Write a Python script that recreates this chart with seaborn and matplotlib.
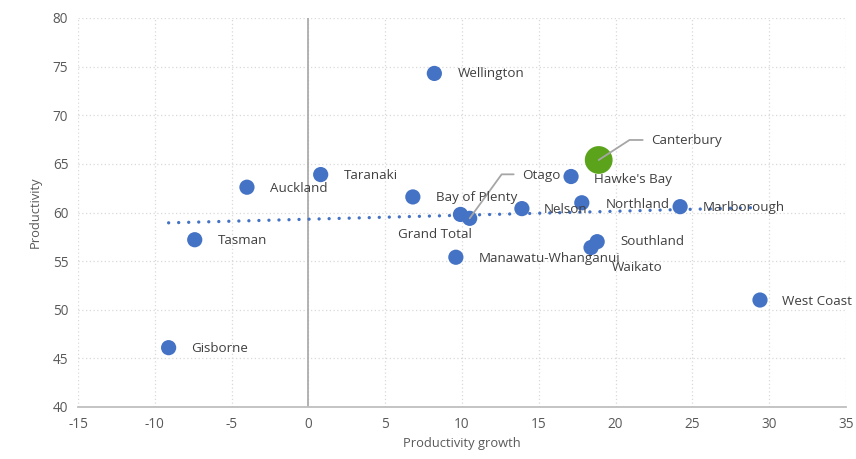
import matplotlib
matplotlib.use("Agg")
import matplotlib.pyplot as plt
import numpy as np
import pandas as pd
import seaborn as sns

# region data
regions = ['Wellington', 'Canterbury', 'Taranaki', 'Auckland', "Hawke's Bay",
           'Bay of Plenty', 'Northland', 'Marlborough', 'Nelson', 'Grand Total',
           'Otago', 'Southland', 'Waikato', 'Tasman', 'Manawatu-Whanganui',
           'West Coast', 'Gisborne']
growth = [8.2, 18.9, 0.8, -4.0, 17.1, 6.8, 17.8, 24.2, 13.9, 9.9,
          10.5, 18.8, 18.4, -7.4, 9.6, 29.4, -9.1]
productivity = [74.3, 65.4, 63.9, 62.6, 63.7, 61.6, 61.0, 60.6, 60.4, 59.8,
                59.4, 57.0, 56.4, 57.2, 55.4, 51.0, 46.1]
highlight = 'Canterbury'

df = pd.DataFrame({'region': regions, 'growth': growth, 'productivity': productivity})
df['group'] = np.where(df.region == highlight, 'hi', 'lo')

# label offsets in pixels (dx, dy), y up
offsets = {'Wellington': (23, 0), 'Canterbury': (52, 19), 'Taranaki': (23, -1),
           'Auckland': (23, -1), "Hawke's Bay": (23, -3), 'Bay of Plenty': (23, -1),
           'Northland': (24, -2), 'Marlborough': (23, -1), 'Nelson': (22, -1),
           'Grand Total': (-62, -20), 'Otago': (52, 43), 'Southland': (23, 0),
           'Waikato': (21, -20), 'Tasman': (23, -1), 'Manawatu-Whanganui': (23, -1),
           'West Coast': (22, -1), 'Gisborne': (23, -1)}
leaders = {'Canterbury': (44, 20, 33), 'Otago': (44, 44, 54)}

sns.set_theme(style='white')
plt.rcParams['font.family'] = ['Open Sans', 'DejaVu Sans']
plt.rcParams['axes.unicode_minus'] = False

fig = plt.figure(figsize=(8.56, 4.59), dpi=100)
ax = fig.add_axes([78 / 856, 1 - 407 / 459, 768 / 856, 389 / 459])

blue = '#4472C4'
green = '#5BA31B'

# trendline
coef = np.polyfit(df.growth, df.productivity, 1)
tx = np.array([df.growth.min(), df.growth.max()])
ax.plot(tx, np.polyval(coef, tx), linestyle=(0, (0.01, 3)), color=blue,
        linewidth=2.4, dash_capstyle='round', zorder=2)

sns.scatterplot(data=df, x='growth', y='productivity', hue='group', size='group',
                palette={'lo': blue, 'hi': green}, sizes={'lo': 120, 'hi': 400},
                edgecolor='none', legend=False, ax=ax, zorder=3)

for r, x, y in zip(regions, growth, productivity):
    dx, dy = offsets[r]
    ax.annotate(r, (x, y), xytext=(dx, dy), textcoords='offset pixels',
                ha='left', va='center', fontsize=9.6, color='#404040', zorder=4)
    if r in leaders:
        lx, ly, ang = leaders[r]
        ax.annotate('', xy=(x, y), xytext=(lx, ly), textcoords='offset pixels',
                    arrowprops=dict(arrowstyle='-', color='#A6A6A6', lw=1.3,
                                    shrinkA=0, shrinkB=0,
                                    connectionstyle=f'angle,angleA=0,angleB={ang},rad=0'),
                    zorder=3)

ax.set_xlim(-15, 35)
ax.set_ylim(40, 80)
ax.set_xticks(range(-15, 36, 5))
ax.set_yticks(range(40, 81, 5))
ax.grid(True, linestyle=(0, (1, 2)), color='#D9D9D9', linewidth=0.9)
ax.set_axisbelow(True)
for s in ['top', 'right', 'left']:
    ax.spines[s].set_visible(False)
ax.spines['bottom'].set_color('#BFBFBF')
ax.spines['bottom'].set_linewidth(1.3)
ax.axvline(0, color='#A6A6A6', linewidth=1.2, zorder=1)
ax.tick_params(axis='both', length=0, labelsize=9.8, colors='#595959', pad=7)
ax.set_xlabel('Productivity growth', fontsize=9.3, color='#595959', labelpad=4)
ax.set_ylabel('Productivity', fontsize=9.3, color='#595959', labelpad=8)

fig.savefig('out.png', dpi=100)
